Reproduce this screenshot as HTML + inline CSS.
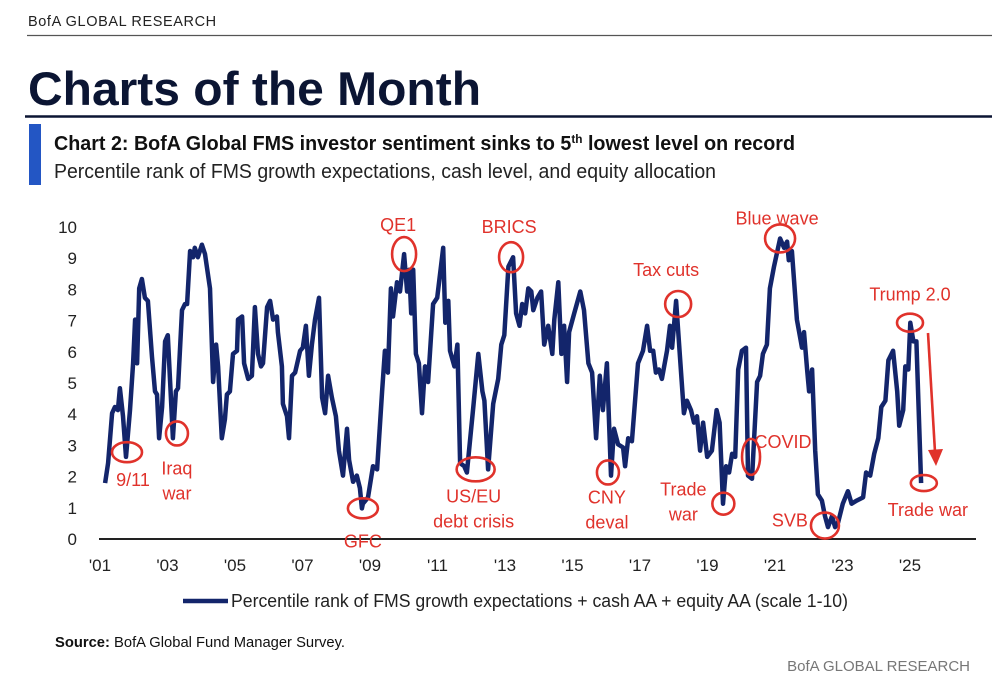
<!DOCTYPE html>
<html><head><meta charset="utf-8"><style>
html,body{margin:0;padding:0;background:#fff;}
body{width:992px;height:682px;overflow:hidden;}
svg text{font-family:"Liberation Sans",sans-serif;}
</style></head><body>
<svg id="chart" width="992" height="682" viewBox="0 0 992 682">
<text x="28" y="26" font-size="14.5" fill="#222" letter-spacing="0.6">BofA GLOBAL RESEARCH</text>
<line x1="27" y1="35.5" x2="992" y2="35.5" stroke="#555" stroke-width="1.2"/>
<text x="28" y="105" font-size="47" font-weight="bold" fill="#0b1533" textLength="453" lengthAdjust="spacingAndGlyphs">Charts of the Month</text>
<line x1="25" y1="116.5" x2="992" y2="116.5" stroke="#0b1533" stroke-width="2.5"/>
<rect x="29" y="124" width="12" height="61" fill="#2356c4"/>
<text x="54" y="150" font-size="20" font-weight="bold" fill="#111" textLength="741" lengthAdjust="spacingAndGlyphs">Chart 2: BofA Global FMS investor sentiment sinks to 5<tspan font-size="12" dy="-7">th</tspan><tspan dy="7"> lowest level on record</tspan></text>
<text x="54" y="178" font-size="20" fill="#222" textLength="662" lengthAdjust="spacingAndGlyphs">Percentile rank of FMS growth expectations, cash level, and equity allocation</text>
<g id="yticks"></g><g id="xticks"></g>
<line x1="99" y1="539" x2="976" y2="539" stroke="#222" stroke-width="2"/>
<path id="series" fill="none" stroke="#13256b" stroke-width="4.5" stroke-linejoin="round"/>
<g id="annot" fill="none" stroke="#e0322b" stroke-width="2.6"></g>
<g id="annotText" fill="#e0322b" font-size="18"></g>
<line x1="183" y1="601" x2="228" y2="601" stroke="#13256b" stroke-width="4.5"/>
<text x="231" y="607" font-size="18" fill="#222" textLength="617" lengthAdjust="spacingAndGlyphs">Percentile rank of FMS growth expectations + cash AA + equity AA (scale 1-10)</text>
<text x="55" y="647" font-size="15" fill="#111" textLength="290" lengthAdjust="spacingAndGlyphs"><tspan font-weight="bold">Source:</tspan> BofA Global Fund Manager Survey.</text>
<text x="970" y="671" font-size="15" fill="#777" text-anchor="end">BofA GLOBAL RESEARCH</text>
</svg>
<script>
const yTicks=[0,1,2,3,4,5,6,7,8,9,10];
const xTickYears=[2001,2003,2005,2007,2009,2011,2013,2015,2017,2019,2021,2023,2025];
const xTickLabels=["'01","'03","'05","'07","'09","'11","'13","'15","'17","'19","'21","'23","'25"];
const dates=[2001.15,2001.24,2001.36,2001.44,2001.53,2001.59,2001.68,2001.77,2001.89,2001.98,2002.04,2002.10,2002.16,2002.24,2002.33,2002.42,2002.54,2002.63,2002.69,2002.75,2002.84,2002.93,2003.01,2003.10,2003.16,2003.25,2003.31,2003.43,2003.52,2003.58,2003.67,2003.76,2003.81,2003.90,2004.02,2004.11,2004.26,2004.35,2004.44,2004.50,2004.61,2004.70,2004.76,2004.85,2004.94,2005.06,2005.09,2005.21,2005.27,2005.39,2005.50,2005.59,2005.68,2005.77,2005.83,2005.95,2006.04,2006.13,2006.24,2006.27,2006.39,2006.42,2006.54,2006.60,2006.69,2006.78,2006.93,2007.01,2007.10,2007.19,2007.28,2007.37,2007.49,2007.58,2007.67,2007.76,2007.87,2007.99,2008.08,2008.20,2008.32,2008.38,2008.50,2008.61,2008.70,2008.76,2008.79,2008.94,2009.09,2009.21,2009.36,2009.44,2009.53,2009.62,2009.68,2009.80,2009.89,2010.01,2010.10,2010.16,2010.22,2010.28,2010.36,2010.45,2010.54,2010.63,2010.72,2010.87,2010.99,2011.17,2011.23,2011.32,2011.37,2011.50,2011.59,2011.67,2011.79,2011.87,2012.06,2012.21,2012.33,2012.39,2012.50,2012.65,2012.80,2012.89,2012.98,2013.10,2013.24,2013.33,2013.43,2013.51,2013.60,2013.69,2013.78,2013.84,2013.96,2014.07,2014.16,2014.28,2014.40,2014.46,2014.58,2014.67,2014.75,2014.84,2014.90,2015.05,2015.23,2015.34,2015.47,2015.58,2015.70,2015.81,2015.90,2016.02,2016.14,2016.23,2016.35,2016.50,2016.56,2016.65,2016.76,2016.94,2017.09,2017.21,2017.30,2017.39,2017.47,2017.56,2017.65,2017.80,2017.89,2017.95,2018.07,2018.19,2018.30,2018.39,2018.51,2018.60,2018.69,2018.78,2018.87,2018.99,2019.13,2019.27,2019.36,2019.46,2019.55,2019.64,2019.73,2019.82,2019.91,2020.02,2020.14,2020.20,2020.32,2020.47,2020.56,2020.64,2020.76,2020.85,2020.97,2021.15,2021.27,2021.36,2021.41,2021.50,2021.65,2021.80,2021.86,2021.95,2022.01,2022.10,2022.19,2022.27,2022.39,2022.48,2022.57,2022.69,2022.78,2022.87,2023.01,2023.16,2023.27,2023.42,2023.61,2023.70,2023.82,2023.94,2024.06,2024.15,2024.27,2024.36,2024.50,2024.62,2024.68,2024.80,2024.86,2024.95,2025.01,2025.10,2025.19,2025.33];
const values=[1.76,2.4,4.0,4.2,4.1,4.8,3.9,2.6,4.1,5.6,7.0,5.6,8.0,8.3,7.7,7.6,5.8,4.7,4.6,3.2,4.2,6.3,6.5,4.5,3.2,4.7,4.8,7.3,7.5,7.5,9.2,9.0,9.3,9.0,9.4,9.1,8.0,5.0,6.2,5.5,3.2,3.8,4.6,4.7,5.9,6.0,7.0,7.1,5.6,5.1,5.2,7.4,5.9,5.5,5.6,7.4,7.6,7.0,7.1,6.6,5.5,4.3,3.9,3.2,5.2,5.3,6.0,6.1,6.8,5.2,6.2,7.0,7.7,4.5,4.0,5.2,4.5,3.9,2.8,2.0,3.5,2.5,1.8,2.0,1.6,0.95,1.1,1.3,2.3,2.2,4.7,6.0,5.3,8.0,7.1,8.2,7.9,9.1,7.9,8.6,7.2,8.6,5.9,5.6,4.0,5.5,5.0,7.5,7.7,9.3,6.9,7.6,6.0,5.5,6.2,2.4,2.3,2.1,4.2,5.9,4.7,4.4,2.2,4.3,5.1,6.2,6.5,8.7,9.0,7.2,6.8,7.5,7.2,8.0,7.9,7.3,7.7,7.9,6.2,6.8,5.9,7.0,8.2,5.9,6.8,5.0,6.6,7.2,7.9,7.3,5.6,5.3,3.2,5.2,4.1,5.6,2.0,3.5,3.0,2.9,2.3,3.2,3.1,5.6,6.0,6.8,6.0,6.0,5.3,5.4,5.1,6.0,6.8,6.1,7.6,5.7,4.0,4.4,4.1,3.7,3.9,2.8,3.7,2.6,2.8,4.1,3.7,1.1,2.3,2.1,2.7,2.6,5.4,6.0,6.1,2.0,1.9,5.0,5.2,5.9,6.2,8.0,8.7,9.6,9.3,9.5,8.9,9.2,7.0,6.1,6.6,5.4,4.7,5.4,2.8,1.4,1.2,0.7,0.35,0.7,0.35,0.5,1.1,1.5,1.1,1.2,1.3,2.1,2.0,2.7,3.2,4.2,4.4,5.7,6.0,4.7,3.6,4.1,5.5,5.4,6.9,6.3,6.3,1.76];
const annotLabels=["9/11","Iraq|war","GFC","QE1","BRICS","US/EU|debt crisis","CNY|deval","Tax cuts","Trade|war","COVID","Blue wave","SVB","Trump 2.0","Trade war"];
const annotDates=[2001.80,2003.28,2008.79,2010.01,2013.18,2012.13,2016.05,2018.13,2019.47,2020.29,2021.15,2022.48,2025.00,2025.41];
const annotValues=[2.75,3.35,0.95,9.1,9.0,2.2,2.1,7.5,1.1,2.6,9.6,0.4,6.9,1.76];

const NS="http://www.w3.org/2000/svg";
const X0=99,Y0=538,PXY=33.75,PXV=31.2;
const xs=d=>X0+1+(d-2001)*PXY;
const ys=v=>Y0-v*PXV;
function mk(tag,attrs,parent){const e=document.createElementNS(NS,tag);for(const k in attrs)e.setAttribute(k,attrs[k]);parent.appendChild(e);return e;}

const yg=document.getElementById('yticks');
yTicks.forEach(v=>{const t=mk('text',{x:77,y:ys(v)+7,'font-size':17,fill:'#222','text-anchor':'end'},yg);


t.textContent=v;});
const xg=document.getElementById('xticks');
xTickYears.forEach((yr,i)=>{const t=mk('text',{x:xs(yr),y:571,'font-size':17,fill:'#222','text-anchor':'middle'},xg);


t.textContent=xTickLabels[i];});

let d='';dates.forEach((dt,i)=>{d+=(i?'L':'M')+xs(dt).toFixed(1)+','+ys(values[i]).toFixed(1);});
document.getElementById('series').setAttribute('d',d);

const ell=[[15,10],[11,12],[15,10],[12,17],[12,15],[19,12],[11,12],[13,13],[11,11],[9,18],[15,14],[14,13],[13,9],[13,8]];
const lab=[[6,28],[0,35],[0,33],[-6,-29],[-2,-30],[-2,27],[-1,25],[-12,-34],[-40,-14],[32,-15],[-3,-20],[-35,-5],[0,-28],[4,27]];
const ag=document.getElementById('annot'),tg=document.getElementById('annotText');
annotLabels.forEach((L,i)=>{
 const cx=xs(annotDates[i]),cy=ys(annotValues[i]);
 const e=mk('ellipse',{cx:cx,cy:cy,rx:ell[i][0],ry:ell[i][1]},ag);
 
 
 const lines=L.split('|');
 lines.forEach((s,j)=>{const t=mk('text',{x:cx+lab[i][0],y:cy+lab[i][1]+6+j*25,'text-anchor':'middle'},tg);
  
  
  t.textContent=s;});
});
const ar=mk('line',{x1:928,y1:333,x2:935,y2:452},ag);


const ah=mk('path',{d:'M928,450 L943,449 L936,466 Z',fill:'#e0322b',stroke:'none'},ag);


</script>
</body></html>
